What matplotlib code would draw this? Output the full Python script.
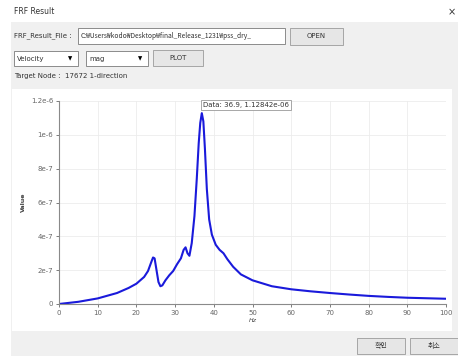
import matplotlib.pyplot as plt
from matplotlib.patches import Rectangle

plt.rcParams['font.family'] = ['DejaVu Sans', 'Noto Sans CJK KR']

# values (Hz, velocity magnitude)
freq = [0, 5, 10, 15, 18, 20, 22, 23, 23.8, 24.3, 24.7, 25.2, 25.7, 26.2,
        26.7, 27.5, 28.5, 29.5, 30.5, 31.5, 32.2, 32.7, 33.2, 33.7, 34.3,
        35, 35.6, 36.1, 36.5, 36.9, 37.3, 37.7, 38.2, 38.8, 39.5, 40.5, 41.5,
        42.5, 43.5, 45, 47, 50, 55, 60, 65, 70, 75, 80, 85, 90, 95, 100]
value = [0, 0.013, 0.033, 0.065, 0.095, 0.12, 0.16, 0.195, 0.245, 0.275,
         0.27, 0.2, 0.13, 0.105, 0.11, 0.14, 0.17, 0.195, 0.235, 0.27, 0.32,
         0.335, 0.3, 0.285, 0.36, 0.52, 0.74, 0.95, 1.07, 1.12842, 1.08,
         0.92, 0.68, 0.5, 0.41, 0.35, 0.32, 0.30, 0.265, 0.22, 0.175, 0.14,
         0.105, 0.087, 0.075, 0.065, 0.056, 0.048, 0.042, 0.037, 0.034, 0.031]
value = [v * 1e-6 for v in value]

xticks = list(range(0, 101, 10))
yticks = [0, 2e-7, 4e-7, 6e-7, 8e-7, 1e-6, 1.2e-6]
ylabels = ['0', '2e-7', '4e-7', '6e-7', '8e-7', '1e-6', '1.2e-6']

W, H = 458, 356
fig = plt.figure(figsize=(W / 100, H / 100), dpi=100)
fig.patch.set_facecolor('white')

# dialog chrome, pixel coordinates
ui = fig.add_axes([0, 0, 1, 1])
ui.set_xlim(0, W)
ui.set_ylim(H, 0)
ui.axis('off')
ui.add_patch(Rectangle((11, 22), W, H, fc='#f0f0f0', ec='none'))
ui.add_patch(Rectangle((12, 89), 440, 242, fc='white', ec='none'))

ui.text(14, 12, 'FRF Result', fontsize=5.5, va='center', color='#333')
ui.text(452, 12, '×', fontsize=7, va='center', ha='center', color='#333')
ui.text(14, 36, 'FRF_Result_File :', fontsize=5, va='center', color='#333')
ui.add_patch(Rectangle((78, 28), 207, 16, fc='white', ec='#7a7a7a', lw=0.6))
ui.text(81, 36, 'C:₩Users₩kodo₩Desktop₩final_Release_1231₩pss_dry_',
        fontsize=4.8, va='center', color='#333',
        family=['Noto Sans CJK KR', 'DejaVu Sans'])
ui.add_patch(Rectangle((290, 28), 53, 17, fc='#e6e6e6', ec='#9a9a9a', lw=0.6))
ui.text(316, 36.5, 'OPEN', fontsize=5, va='center', ha='center', color='#333')

for x0, w, lab in [(14, 64, 'Velocity'), (86, 62, 'mag')]:
    ui.add_patch(Rectangle((x0, 51), w, 15, fc='white', ec='#7a7a7a', lw=0.6))
    ui.text(x0 + 3, 58.5, lab, fontsize=5, va='center', color='#333')
    ui.text(x0 + w - 8, 58.5, '▼', fontsize=4, va='center', ha='center')
ui.add_patch(Rectangle((153, 50), 50, 16, fc='#e6e6e6', ec='#9a9a9a', lw=0.6))
ui.text(178, 58, 'PLOT', fontsize=5, va='center', ha='center', color='#333')
ui.text(14, 76, 'Target Node :  17672 1-direction', fontsize=5, va='center',
        color='#333')

for x0, lab in [(357, '확인'), (410, '취소')]:
    ui.add_patch(Rectangle((x0, 338), 48, 16, fc='#e6e6e6', ec='#9a9a9a', lw=0.6))
    ui.text(x0 + 24, 346, lab, fontsize=5, va='center', ha='center',
            color='#333', family=['Noto Sans CJK KR', 'DejaVu Sans'])

# chart
ax = fig.add_axes([59 / W, (H - 304) / H, (446 - 59) / W, (304 - 101) / H])
ax.plot(freq, value, color='#1a1adb', lw=1.5)
ax.set_xlim(0, 100)
ax.set_ylim(0, 1.2e-6)
ax.set_xticks(xticks)
ax.set_yticks(yticks)
ax.set_yticklabels(ylabels)
ax.grid(color='#ececec', lw=0.6)
ax.set_axisbelow(True)
for s in ['top', 'right']:
    ax.spines[s].set_visible(False)
for s in ['left', 'bottom']:
    ax.spines[s].set_color('#8a8a8a')
    ax.spines[s].set_linewidth(0.8)
ax.tick_params(labelsize=5, colors='#666', length=2.5, width=0.6, pad=1.5)
ax.set_xlabel('Hz', fontsize=4.5, color='#444', labelpad=1.5, style='italic')
ax.set_ylabel('Value', fontsize=4.5, color='#444', labelpad=4, weight='bold')

ax.annotate('Data: 36.9, 1.12842e-06', xy=(36.9, 1.12842e-6),
            xytext=(203, H - 105), textcoords='figure pixels', fontsize=5,
            color='#333', va='center',
            bbox=dict(boxstyle='square,pad=0.3', fc='white', ec='#999', lw=0.6))

fig.savefig('out.png', dpi=100)
